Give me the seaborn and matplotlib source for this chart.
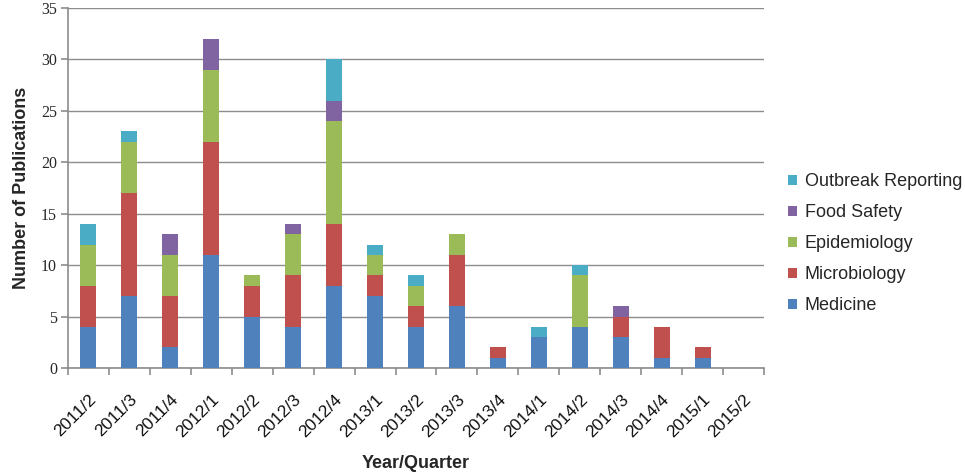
import numpy as np
import pandas as pd
import matplotlib
matplotlib.use("Agg")
import matplotlib.pyplot as plt
import seaborn as sns

quarters = ["2011/2", "2011/3", "2011/4", "2012/1", "2012/2", "2012/3", "2012/4",
            "2013/1", "2013/2", "2013/3", "2013/4", "2014/1", "2014/2", "2014/3",
            "2014/4", "2015/1", "2015/2"]
medicine = [4, 7, 2, 11, 5, 4, 8, 7, 4, 6, 1, 3, 4, 3, 1, 1, 0]
microbiology = [4, 10, 5, 11, 3, 5, 6, 2, 2, 5, 1, 0, 0, 2, 3, 1, 0]
epidemiology = [4, 5, 4, 7, 1, 4, 10, 2, 2, 2, 0, 0, 5, 0, 0, 0, 0]
food_safety = [0, 0, 2, 3, 0, 1, 2, 0, 0, 0, 0, 0, 0, 1, 0, 0, 0]
outbreak = [2, 1, 0, 0, 0, 0, 4, 1, 1, 0, 0, 1, 1, 0, 0, 0, 0]

series = ["Medicine", "Microbiology", "Epidemiology", "Food Safety", "Outbreak Reporting"]
colors = ["#4F81BD", "#C0504D", "#9BBB59", "#8064A2", "#4BACC6"]

df = pd.DataFrame({"Quarter": quarters, "Medicine": medicine, "Microbiology": microbiology,
                   "Epidemiology": epidemiology, "Food Safety": food_safety,
                   "Outbreak Reporting": outbreak})
cum = df[series].cumsum(axis=1)
cum["Quarter"] = df["Quarter"]

sns.set_style("white")
plt.rcParams["font.family"] = ["Liberation Sans", "DejaVu Sans"]

fig = plt.figure(figsize=(9.65, 4.74), dpi=100)
ax = fig.add_axes([68 / 965, 1 - 368 / 474, 696 / 965, 360 / 474])

# draw tallest stack first so the lower layers sit on top
for name, color in reversed(list(zip(series, colors))):
    sns.barplot(data=cum, x="Quarter", y=name, color=color, width=0.39,
                saturation=1, ax=ax, label=name, zorder=3,
                edgecolor="white", linewidth=0)

ax.set_xlim(-0.5, len(quarters) - 0.5)
ax.set_ylim(0, 35)
ax.set_yticks(range(0, 36, 5))
ax.yaxis.grid(True, color="#8c8c8c", linewidth=1.0, zorder=0)
ax.set_axisbelow(True)
for s in ["top", "right"]:
    ax.spines[s].set_visible(False)
for s in ["left", "bottom"]:
    ax.spines[s].set_color("#8c8c8c")
    ax.spines[s].set_linewidth(1.2)

# tick marks between categories
ax.set_xticks(np.arange(-0.5, len(quarters), 1.0), minor=False)
ax.set_xticklabels([])
ax.set_xticks(np.arange(len(quarters)), minor=True)
ax.set_xticklabels(quarters, minor=True, rotation=45, ha="right",
                   rotation_mode="anchor", fontsize=12.5)
ax.tick_params(axis="x", which="major", direction="out", length=5,
               color="#8c8c8c", width=1.2, bottom=True)
ax.tick_params(axis="x", which="minor", length=0, pad=17, colors="#111111")
ax.tick_params(axis="y", direction="out", length=5, color="#8c8c8c",
               width=1.2, left=True, pad=3)
for lbl in ax.get_yticklabels():
    lbl.set_family(["Liberation Serif", "DejaVu Serif"])
    lbl.set_fontsize(11.5)

ax.set_xlabel("Year/Quarter", fontsize=13, fontweight="bold", labelpad=11)
ax.set_ylabel("Number of Publications", fontsize=13, fontweight="bold", labelpad=8)

handles, labels = ax.get_legend_handles_labels()
ax.legend(handles, labels, loc="center left", bbox_to_anchor=(1.035, 0.345),
          frameon=False, fontsize=13, handlelength=0.5, handleheight=0.5,
          handletextpad=0.4, labelspacing=0.78, borderaxespad=0, borderpad=0)

fig.savefig("out.png", dpi=100)
